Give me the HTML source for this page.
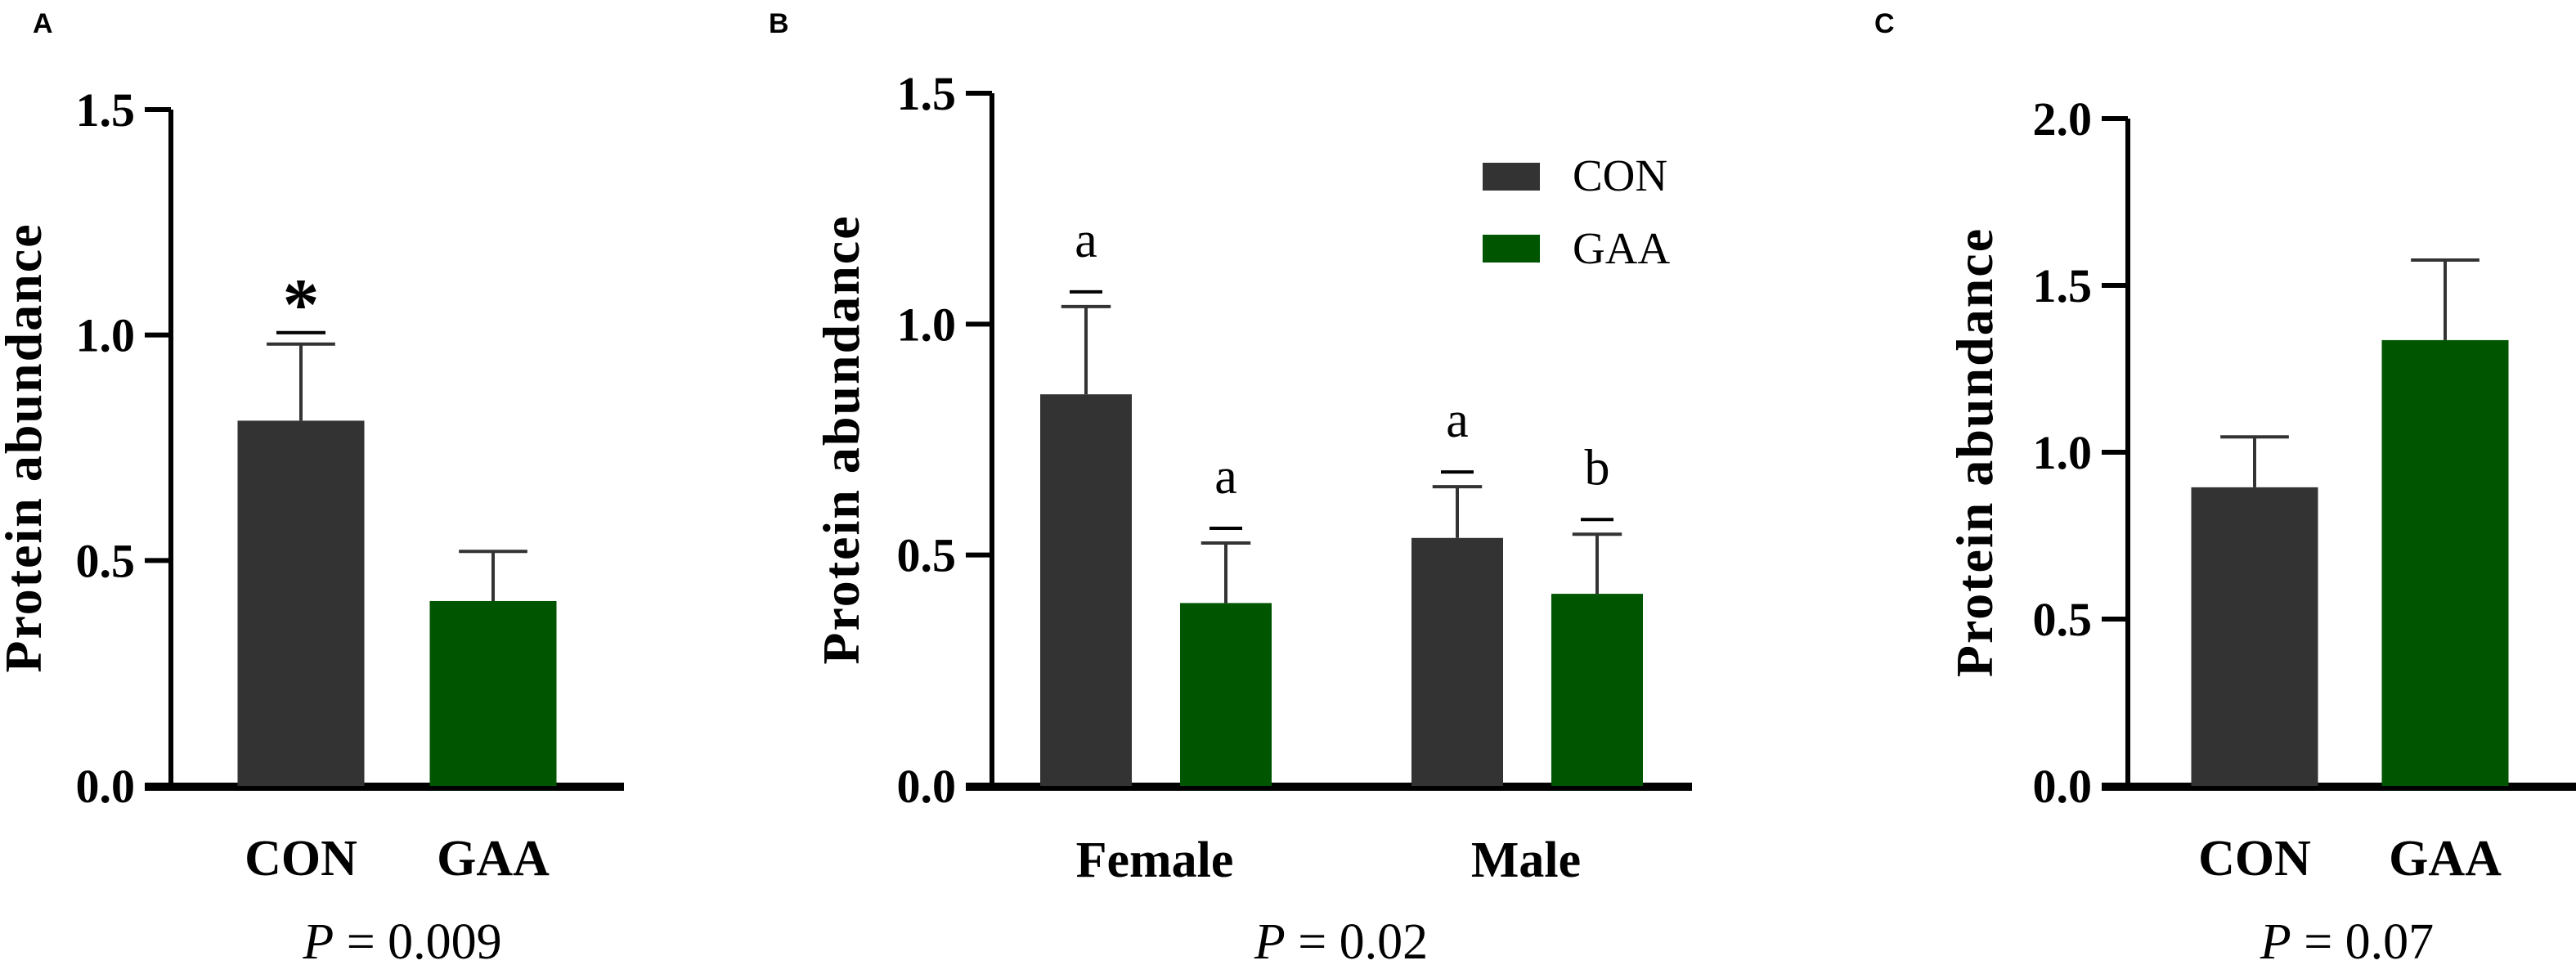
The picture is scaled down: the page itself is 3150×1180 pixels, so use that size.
<!DOCTYPE html>
<html><head><meta charset="utf-8"><style>
html,body{margin:0;padding:0;background:#fff;}
svg{display:block;}
text{font-family:"Liberation Serif",serif;}
</style></head><body>
<svg id="fig" width="3150" height="1180" viewBox="0 0 3150 1180" xmlns="http://www.w3.org/2000/svg">
<text x="40" y="40" font-weight="bold" font-size="34" style="font-family:'Liberation Sans',sans-serif">A</text>
<text x="940" y="40" font-weight="bold" font-size="34" style="font-family:'Liberation Sans',sans-serif">B</text>
<text x="2292" y="40" font-weight="bold" font-size="34" style="font-family:'Liberation Sans',sans-serif">C</text>
<g id="gA"></g>
<g id="gB"></g>
<g id="gC"></g>
<g>
<rect x="1813" y="199" width="70" height="34" fill="#333333"/>
<text x="1923" y="233" font-size="55">CON</text>
<rect x="1813" y="287" width="70" height="34" fill="#005500"/>
<text x="1923" y="322" font-size="55">GAA</text>
</g>
</svg>
<script>
const aCategories = ["CON","GAA"];
const aValues = [0.81, 0.41];
const aErrors = [0.98, 0.52];
const aTicks = ["0.0","0.5","1.0","1.5"];
const bCategories = ["Female","Male"];
const bConValues = [0.848, 0.537];
const bConErrors = [1.038, 0.648];
const bGaaValues = [0.396, 0.416];
const bGaaErrors = [0.526, 0.545];
const bLetters = ["a","a","a","b"];
const bTicks = ["0.0","0.5","1.0","1.5"];
const cCategories = ["CON","GAA"];
const cValues = [0.895, 1.336];
const cErrors = [1.046, 1.576];
const cTicks = ["0.0","0.5","1.0","1.5","2.0"];

const NS="http://www.w3.org/2000/svg";
function mk(parent,tag,attrs,txt){const e=document.createElementNS(NS,tag);for(const k in attrs)e.setAttribute(k,attrs[k]);if(txt!==undefined)e.textContent=txt;parent.appendChild(e);return e;}
const DARK="#333333", GREEN="#005500";

function axes(g,ax,x0,x1,y0,yTop,max,ticks,titleX,pText,pX){
  const sy=v=>y0-(v/max)*(y0-yTop);
  const ya=mk(g,'line',{x1:ax,y1:yTop,x2:ax,y2:y0+5,stroke:'#000','stroke-width':6});
  
  
  const xa=mk(g,'line',{x1:x0,y1:y0+1,x2:x1,y2:y0+1,stroke:'#000','stroke-width':10});
  
  
  ticks.forEach(t=>{
    const v=parseFloat(t);const y=sy(v);
    const tl=mk(g,'line',{x1:ax-32,y1:y,x2:ax,y2:y,stroke:'#000','stroke-width':6});
    
    
    const tx=mk(g,'text',{x:ax-44,y:y+20,'text-anchor':'end','font-size':58,'font-weight':'bold'},t);
    
    
  });
  const ty=(yTop+y0)/2;
  const tt=mk(g,'text',{x:titleX,y:ty,'text-anchor':'middle','font-size':64,'font-weight':'bold',transform:`rotate(-90 ${titleX} ${ty})`,'letter-spacing':'2'},'Protein abundance');
  
  
  const p=mk(g,'text',{x:pX,y:1172,'text-anchor':'middle','font-size':62});
  mk(p,'tspan',{'font-style':'italic'},'P');
  mk(p,'tspan',{},' =  '+pText);
  
  
  return sy;
}
function bar(g,sy,cx,w,v,err,color,name,y0){
  const r=mk(g,'rect',{x:cx-w/2,y:sy(v),width:w,height:y0-sy(v),fill:color});
  
  
  const e=mk(g,'path',{d:`M${cx} ${sy(v)}V${sy(err)}M${cx-w*0.27} ${sy(err)}H${cx+w*0.27}`,stroke:DARK,'stroke-width':4,fill:'none'});
  
  
  return sy(err);
}
function xlabel(g,x,y,t){const e=mk(g,'text',{x:x,y:y,'text-anchor':'middle','font-size':62,'font-weight':'bold'},t);
  
  }

// Panel A
(function(){
  const g=document.getElementById('gA');const y0=961;
  const sy=axes(g,209,177,763,y0,134,1.5,aTicks,50,'0.009',492);
  const cxs=[368,603];const cols=[DARK,GREEN];
  aCategories.forEach((c,i)=>{
    const te=bar(g,sy,cxs[i],155,aValues[i],aErrors[i],cols[i],'bar-'+c.toLowerCase(),y0);
    xlabel(g,cxs[i],1070,c);
    if(i===0){
      const d=mk(g,'line',{x1:cxs[i]-30,y1:te-14,x2:cxs[i]+30,y2:te-14,stroke:'#000','stroke-width':4});
      
      
      const s=mk(g,'text',{x:cxs[i],y:te-18,'text-anchor':'middle','font-size':90,'font-weight':'bold'},'*');
      
      
    }
  });
})();
// Panel B
(function(){
  const g=document.getElementById('gB');const y0=961;
  const sy=axes(g,1213,1181,2069,y0,114,1.5,bTicks,1050,'0.02',1640);
  const groupC=[1412,1866];
  let k=0;
  bCategories.forEach((c,i)=>{
    const pairs=[[bConValues[i],bConErrors[i],DARK,'con',groupC[i]-84],[bGaaValues[i],bGaaErrors[i],GREEN,'gaa',groupC[i]+87]];
    pairs.forEach(p=>{
      const te=bar(g,sy,p[4],112,p[0],p[1],p[2],'bar-'+c.toLowerCase()+'-'+p[3],y0);
      const d=mk(g,'line',{x1:p[4]-20,y1:te-18,x2:p[4]+20,y2:te-18,stroke:'#000','stroke-width':4});
      
      
      const l=mk(g,'text',{x:p[4],y:te-61,'text-anchor':'middle','font-size':62},bLetters[k]);
      
      
      k++;
    });
    xlabel(g,groupC[i],1072,c);
  });
})();
// Panel C
(function(){
  const g=document.getElementById('gC');const y0=961;
  const sy=axes(g,2602,2570,3150,y0,145,2.0,cTicks,2436,'0.07',2870);
  const cxs=[2757,2990];const cols=[DARK,GREEN];
  cCategories.forEach((c,i)=>{
    bar(g,sy,cxs[i],155,cValues[i],cErrors[i],cols[i],'bar-'+c.toLowerCase(),y0);
    xlabel(g,cxs[i],1070,c);
  });
})();
</script>
</body></html>
